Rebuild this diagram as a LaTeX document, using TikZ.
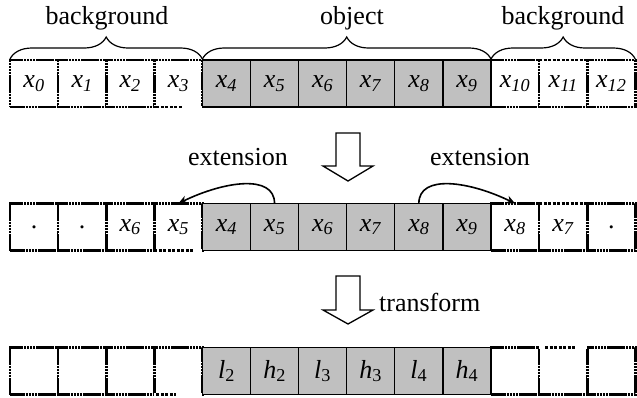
\documentclass[tikz,border=0pt]{standalone}
\usepackage{fontspec}
\setmainfont{Liberation Serif}
\usetikzlibrary{decorations.pathreplacing,arrows.meta}
\definecolor{gcol}{HTML}{C0C0C0}
\newcommand\myxs[1]{\textit{x}\textsubscript{\textit{#1}}}
\newcommand\myls[2]{\textit{#1}\textsubscript{#2}}
\begin{document}
\begin{tikzpicture}[x=1pt,y=-1pt,
  cellbase/.style={minimum width=48.1pt,minimum height=47pt,inner sep=0pt,outer sep=0pt,font=\fontsize{26}{30}\selectfont},
  wcell/.style={cellbase,draw,line width=2.6pt,dash pattern=on 2.6pt off 0.5pt,fill=white},
  gcell/.style={cellbase,draw,line width=1.3pt,fill=gcol},
  oddedge/.style={draw=white,line width=2.8pt},
  oddedgedash/.style={line width=2.6pt,dash pattern=on 3pt off 1.5pt},
  lbl/.style={font=\fontsize{26}{30}\selectfont,inner sep=0pt},
  bracestyle/.style={decorate,decoration={brace,amplitude=22pt,raise=1pt},line width=1.2pt},
  curvearrow/.style={line width=1.6pt,-{Stealth[length=9pt,width=8pt]}},
  blockarrow/.style={draw,line width=1.3pt,fill=white,line join=miter}
]
\useasboundingbox (0,0) rectangle (637,397);

% ---------- Row 1 ----------
\foreach \i in {0,...,3}
  \node[wcell] (a\i) at ({34.05+48.1*\i},83.5) {\myxs{\i}};
\foreach \i in {10,11,12}
  \node[wcell] (a\i) at ({34.05+48.1*\i},83.5) {\myxs{\i}};
\foreach \i in {4,...,9}
  \node[gcell] (a\i) at ({34.05+48.1*\i},83.5) {\myxs{\i}};
\draw[oddedge] (a3.south west) ++(2,0) -- (a3.south east);
\draw[oddedgedash] (a3.south west) ++(2,0) -- ++(26,0);
\draw[oddedge] (a11.north west) -- (a11.north east);
\draw[oddedgedash] (a11.north west) -- (a11.north east);

\draw[bracestyle] (a0.north west) -- (a3.north east);
\draw[bracestyle] (a4.north west) -- (a9.north east);
\draw[bracestyle] (a10.north west) -- (a12.north east);
\node[lbl] (t1) at (107,18) {background};
\node[lbl] (t2) at (352,18) {object};
\node[lbl] (t3) at (563,18) {background};

% ---------- Arrow 1 ----------
\draw[blockarrow] (336,133) -- (360,133) -- (360,166) -- (373,166) -- (348,181) -- (323,166) -- (336,166) -- cycle;

% ---------- Row 2 ----------
\foreach \i/\t in {0/{.},1/{.},2/{\myxs{6}},3/{\myxs{5}},10/{\myxs{8}},11/{\myxs{7}},12/{.}}
  \node[wcell] (b\i) at ({34.05+48.1*\i},227) {\t};
\foreach \i in {4,...,9}
  \node[gcell] (b\i) at ({34.05+48.1*\i},227) {\myxs{\i}};
\draw[oddedge] (b3.south west) ++(2,0) -- (b3.south east);
\draw[oddedgedash] (b3.south west) -- ++(40,0);
\draw[oddedge] (b11.north west) -- (b11.north east);
\draw[oddedgedash] (b11.north west) -- (b11.north east);

\node[lbl] (e1) at (238,157) {extension};
\node[lbl] (e2) at (480,157) {extension};
\draw[curvearrow] (b5.north) .. controls +(0,-30) and +(45,-22) .. (b3.north);
\draw[curvearrow] (b8.north) .. controls +(0,-30) and +(-45,-22) .. (b10.north);

% ---------- Arrow 2 ----------
\draw[blockarrow] (336,276) -- (360,276) -- (360,310) -- (373,310) -- (348,324) -- (323,310) -- (336,310) -- cycle;
\node[lbl,anchor=west] (tr) at (379,302) {transform};

% ---------- Row 3 ----------
\foreach \i in {0,1,2,3,10,11,12}
  \node[wcell] (c\i) at ({34.05+48.1*\i},371) {};
\foreach \i/\t in {4/{\myls{l}{2}},5/{\myls{h}{2}},6/{\myls{l}{3}},7/{\myls{h}{3}},8/{\myls{l}{4}},9/{\myls{h}{4}}}
  \node[gcell] (c\i) at ({34.05+48.1*\i},371) {\t};
\draw[oddedge] (c3.south west) -- (c3.south east);
\draw[oddedgedash] (c3.south west) ++(2,0) -- ++(20,0);
\draw[oddedge] (c11.north west) -- (c11.north east);
\draw[oddedgedash] (c11.north west) ++(6,0) -- ++(30,0);
\end{tikzpicture}
\end{document}
